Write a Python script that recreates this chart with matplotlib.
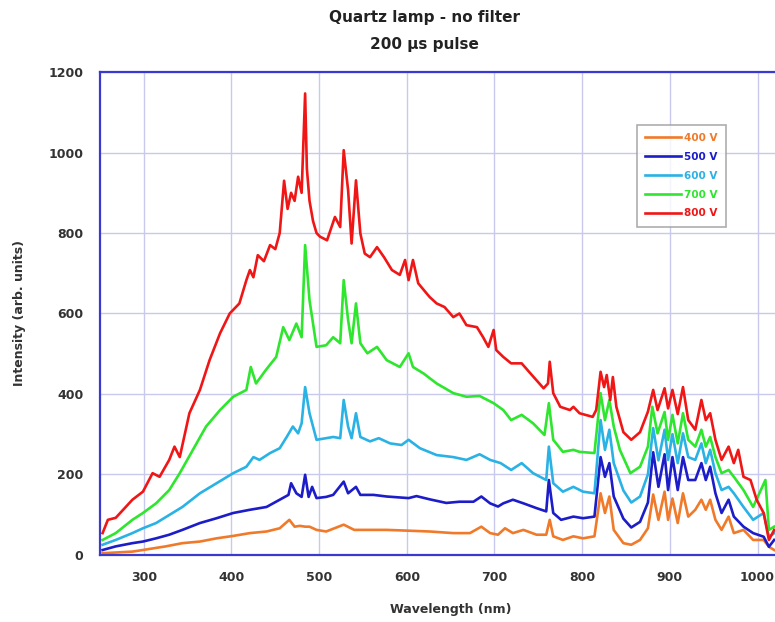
import matplotlib
matplotlib.use("Agg")
import matplotlib.pyplot as plt

# Spectra (wavelength in nm, intensity in arb. units)
wl_800 = [253, 259, 268, 287, 299, 310, 318, 329, 335, 341, 352, 364, 375, 387, 398, 409,
          417, 421, 425, 430, 437, 444, 450, 455, 460, 464, 468, 472, 476, 480, 484, 486,
          489, 493, 497, 501, 509, 518, 524, 528, 533, 537, 542, 547, 552, 558, 566, 574,
          583, 592, 598, 602, 607, 613, 626, 634, 643, 653, 660, 668, 680, 687, 693, 699,
          702, 710, 719, 731, 741, 756, 761, 763, 767, 775, 786, 790, 797, 812, 816, 821,
          825, 828, 832, 835, 839, 847, 856, 866, 875, 881, 886, 894, 898, 903, 909, 915,
          921, 929, 936, 941, 946, 952, 959, 967, 973, 978, 984, 992, 999, 1007, 1013, 1019]
int_800 = [54, 87, 92, 137, 157, 203, 194, 236, 269, 243, 352, 410, 484, 551, 600, 625,
           683, 708, 690, 745, 730, 770, 760, 800, 930, 860, 900, 880, 940, 900, 1147, 960,
           880, 830, 800, 791, 782, 840, 815, 1006, 907, 774, 931, 799, 749, 740, 765, 740,
           708, 696, 733, 683, 733, 675, 641, 625, 616, 591, 600, 571, 566, 541, 517, 559,
           509, 492, 476, 476, 451, 414, 426, 480, 402, 368, 360, 368, 352, 343, 360, 455,
           417, 447, 385, 442, 368, 305, 286, 305, 356, 410, 360, 414, 364, 410, 350, 417,
           335, 311, 385, 335, 352, 286, 236, 269, 228, 261, 194, 186, 137, 104, 37, 62]

wl_700 = [253, 268, 287, 299, 314, 329, 341, 356, 371, 387, 402, 417, 422, 428, 439, 451,
          459, 466, 474, 480, 484, 489, 497, 508, 516, 524, 528, 533, 537, 542, 547, 555,
          566, 577, 592, 602, 607, 619, 634, 653, 668, 683, 699, 710, 719, 731, 744, 757,
          762, 767, 778, 790, 797, 814, 821, 826, 831, 836, 843, 855, 866, 875, 880, 886,
          894, 898, 903, 909, 915, 921, 929, 936, 941, 946, 952, 959, 967, 973, 984, 995,
          1009, 1013, 1019]
int_700 = [37, 54, 87, 104, 128, 161, 203, 261, 319, 360, 393, 410, 467, 426, 459, 492,
           566, 534, 575, 541, 770, 633, 517, 521, 541, 526, 683, 584, 526, 625, 526, 501,
           517, 484, 467, 501, 467, 451, 426, 402, 393, 395, 377, 360, 335, 348, 327, 298,
           377, 286, 256, 261, 256, 253, 402, 335, 385, 319, 261, 203, 219, 269, 368, 302,
           355, 286, 348, 277, 352, 286, 269, 311, 269, 293, 243, 203, 211, 194, 161, 119,
           186, 62, 70]

wl_600 = [253, 268, 287, 299, 314, 329, 344, 364, 383, 402, 417, 425, 432, 444, 455, 463,
          470, 476, 480, 484, 489, 497, 508, 516, 524, 528, 533, 537, 542, 547, 558, 568,
          581, 594, 602, 615, 634, 653, 668, 683, 695, 707, 719, 731, 744, 759, 762, 767,
          778, 790, 801, 814, 821, 826, 831, 836, 847, 856, 866, 875, 881, 887, 894, 898,
          903, 909, 915, 921, 929, 936, 941, 946, 952, 959, 967, 973, 984, 995, 1007, 1013,
          1019]
int_600 = [25, 37, 54, 66, 79, 99, 119, 153, 178, 203, 219, 243, 236, 253, 265, 293,
           319, 302, 327, 417, 352, 286, 290, 293, 290, 385, 319, 290, 352, 293, 282, 290,
           277, 273, 286, 265, 248, 243, 236, 250, 236, 228, 211, 228, 203, 186, 269, 178,
           157, 169, 157, 153, 335, 261, 311, 228, 160, 130, 145, 200, 315, 235, 311, 236,
           300, 228, 302, 243, 236, 277, 228, 261, 203, 161, 169, 153, 119, 87, 104, 45,
           54]

wl_500 = [253, 268, 287, 299, 314, 329, 344, 364, 383, 402, 421, 440, 455, 465, 468, 474,
          480, 484, 488, 492, 497, 508, 516, 528, 533, 542, 547, 562, 577, 602, 611, 626,
          645, 660, 676, 685, 695, 704, 710, 721, 733, 748, 759, 762, 767, 776, 790, 801,
          814, 821, 826, 831, 836, 847, 856, 866, 875, 881, 887, 894, 898, 903, 909, 915,
          921, 929, 936, 941, 946, 952, 959, 967, 973, 984, 995, 1007, 1013, 1019]
int_500 = [12, 21, 29, 33, 41, 50, 62, 79, 91, 104, 112, 119, 137, 149, 178, 153,
           144, 199, 144, 169, 141, 144, 149, 182, 153, 169, 149, 149, 145, 141, 146, 138,
           129, 132, 132, 145, 128, 120, 128, 137, 128, 116, 108, 186, 104, 87, 95, 91,
           95, 243, 194, 228, 145, 90, 68, 82, 130, 255, 169, 250, 161, 243, 161, 243,
           186, 186, 228, 186, 219, 153, 104, 137, 95, 70, 54, 45, 20, 37]

wl_400 = [253, 287, 299, 325, 344, 364, 383, 402, 421, 440, 455, 466, 472, 478, 484, 489,
          497, 508, 528, 540, 577, 602, 626, 653, 672, 685, 695, 704, 712, 721, 733, 748,
          759, 763, 767, 778, 790, 801, 814, 821, 826, 831, 836, 847, 856, 866, 875, 881,
          887, 894, 898, 903, 909, 915, 921, 929, 936, 941, 946, 952, 959, 967, 973, 984,
          995, 1007, 1013, 1019]
int_400 = [4, 8, 12, 21, 29, 33, 41, 47, 54, 58, 66, 87, 70, 72, 70, 70,
           62, 58, 75, 62, 62, 60, 58, 54, 54, 70, 54, 50, 66, 54, 62, 50,
           50, 87, 46, 37, 46, 41, 46, 153, 104, 145, 62, 29, 25, 37, 66, 150,
           87, 157, 87, 140, 79, 153, 95, 112, 137, 112, 137, 87, 62, 95, 54, 62,
           37, 37, 20, 12]

series = [
    ("400 V", wl_400, int_400, "#f07a2a"),
    ("500 V", wl_500, int_500, "#1c1cc8"),
    ("600 V", wl_600, int_600, "#2ab2e4"),
    ("700 V", wl_700, int_700, "#2ee62e"),
    ("800 V", wl_800, int_800, "#f01616"),
]

fig = plt.figure(figsize=(7.75, 6.22), dpi=100)
# axes runs past the right edge of the picture, like the cropped original
ax = fig.add_axes([0.129, 0.108, 0.905, 0.776])

for label, wl, inten, color in series:
    ax.plot(wl, inten, color=color, lw=1.9, label=label)

ax.set_xlim(250, 1050)
ax.set_ylim(0, 1200)
ax.set_xticks(range(300, 1001, 100))
ax.set_yticks(range(0, 1201, 200))
ax.grid(True, color="#c9c9ee", lw=1)
ax.set_axisbelow(True)
for sp in ax.spines.values():
    sp.set_color("#3a3ad0")
    sp.set_linewidth(1.6)
ax.tick_params(length=0, pad=12, labelsize=9, labelcolor="#333333")
for t in ax.get_xticklabels() + ax.get_yticklabels():
    t.set_fontweight("bold")

ax.set_xlabel("Wavelength (nm)", fontsize=9, fontweight="bold", color="#333333", labelpad=13)
ax.set_ylabel("Intensity (arb. units)", fontsize=9, fontweight="bold", color="#333333", labelpad=16)

fig.text(0.548, 0.972, "Quartz lamp - no filter", ha="center", va="center",
         fontsize=11, fontweight="bold", color="#222222")
fig.text(0.548, 0.929, "200 \u03bcs pulse", ha="center", va="center",
         fontsize=11, fontweight="bold", color="#222222")

leg = ax.legend(loc="upper left", bbox_to_anchor=(0.815, 0.808), bbox_transform=fig.transFigure,
                fontsize=7.5, frameon=True, fancybox=False, edgecolor="#999999",
                handlelength=3.4, handletextpad=0.3, labelspacing=0.85, borderpad=0.8)
leg.get_frame().set_linewidth(1.2)
for txt, (_, _, _, color) in zip(leg.get_texts(), series):
    txt.set_color(color)
    txt.set_fontweight("bold")

fig.savefig("out.png", dpi=100)
